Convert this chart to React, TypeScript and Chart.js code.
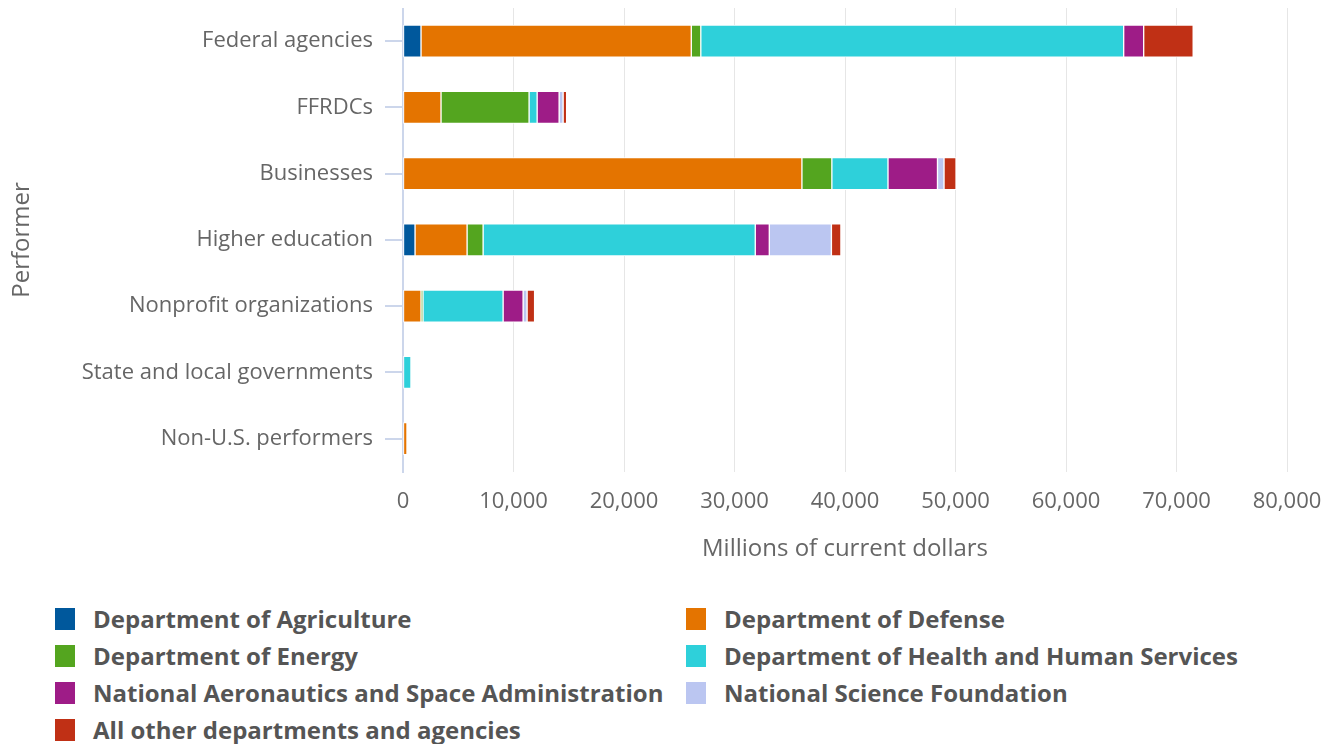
import React, { useEffect, useRef } from 'react';
import { Chart, registerables } from 'chart.js';

Chart.register(...registerables);

const categories = [
  'Federal agencies',
  'FFRDCs',
  'Businesses',
  'Higher education',
  'Nonprofit organizations',
  'State and local governments',
  'Non-U.S. performers',
];

const agriculture = [1630, 0, 0, 1090, 0, 0, 0];
const defense = [24460, 3440, 36100, 4710, 1630, 0, 360];
const energy = [860, 7970, 2710, 1450, 180, 0, 0];
const hhs = [38270, 730, 5080, 24630, 7250, 720, 0];
const nasa = [1810, 1990, 4480, 1270, 1810, 0, 0];
const nsf = [0, 360, 590, 5620, 360, 0, 0];
const other = [4480, 320, 1090, 860, 680, 0, 0];

const seriesNames = [
  'Department of Agriculture',
  'Department of Defense',
  'Department of Energy',
  'Department of Health and Human Services',
  'National Aeronautics and Space Administration',
  'National Science Foundation',
  'All other departments and agencies',
];
const seriesColors = ['#00589c', '#e47400', '#54a51f', '#2ed0da', '#9e1c87', '#bbc6f1', '#c03015'];

const xTicks = [0, 10000, 20000, 30000, 40000, 50000, 60000, 70000, 80000];

const FONT = "'Open Sans', sans-serif";

export default function App() {
  const ref = useRef<HTMLCanvasElement>(null);

  useEffect(() => {
    const values = [agriculture, defense, energy, hhs, nasa, nsf, other];
    const chart = new Chart(ref.current as HTMLCanvasElement, {
      type: 'bar',
      data: {
        labels: categories,
        datasets: seriesNames.map((name, i) => ({
          label: name,
          data: values[i],
          backgroundColor: seriesColors[i],
          borderColor: '#ffffff',
          borderWidth: 1,
          borderSkipped: false,
          barThickness: 32,
        })),
      },
      options: {
        indexAxis: 'y',
        animation: false,
        responsive: true,
        maintainAspectRatio: false,
        layout: { padding: 0 },
        plugins: { legend: { display: false }, tooltip: { enabled: false } },
        scales: {
          x: {
            stacked: true,
            min: xTicks[0],
            max: xTicks[xTicks.length - 1],
            afterBuildTicks: (s: any) => {
              s.ticks = xTicks.map((v) => ({ value: v }));
            },
            ticks: {
              padding: 17,
              color: '#666666',
              font: { family: FONT, size: 22 },
              maxRotation: 0,
              autoSkip: false,
              callback: (v: any) => Number(v).toLocaleString('en-US'),
            },
            grid: { color: '#e6e6e6', lineWidth: 1, drawTicks: false },
            border: { display: false },
            title: {
              display: true,
              text: 'Millions of current dollars',
              color: '#666666',
              font: { family: FONT, size: 24 },
              padding: { top: 3, bottom: 0 },
            },
            afterFit: (s: any) => {
              s.paddingLeft = 0;
              s.paddingRight = 38;
            },
          },
          y: {
            stacked: true,
            ticks: { padding: 12, color: '#666666', font: { family: FONT, size: 22 } },
            grid: {
              drawOnChartArea: false,
              drawTicks: true,
              tickLength: 18,
              color: '#ccd6eb',
              lineWidth: 2,
              offset: false,
            },
            border: { display: true, color: '#ccd6eb', width: 2 },
            title: {
              display: true,
              text: 'Performer',
              color: '#666666',
              font: { family: FONT, size: 24 },
              padding: 0,
            },
            afterFit: (s: any) => {
              s.width = 395;
              s.paddingTop = 0;
              s.paddingBottom = 0;
            },
          },
        },
      },
    });
    return () => chart.destroy();
  }, []);

  return (
    <div style={{ fontFamily: FONT }}>
      <div style={{ position: 'relative', width: 1317, height: 556 }}>
        <canvas ref={ref} />
      </div>
      <div
        style={{
          marginTop: 36,
          paddingLeft: 47,
          display: 'grid',
          gridTemplateColumns: '631px auto',
        }}
      >
        {seriesNames.map((name, i) => (
          <div key={name} style={{ display: 'flex', alignItems: 'center', height: 37 }}>
            <span
              style={{
                display: 'inline-block',
                width: 20,
                height: 22,
                background: seriesColors[i],
                marginRight: 18,
                flex: 'none',
              }}
            />
            <span style={{ fontWeight: 700, fontSize: 24, color: '#555555', whiteSpace: 'nowrap', lineHeight: '37px' }}>{name}</span>
          </div>
        ))}
      </div>
    </div>
  );
}
